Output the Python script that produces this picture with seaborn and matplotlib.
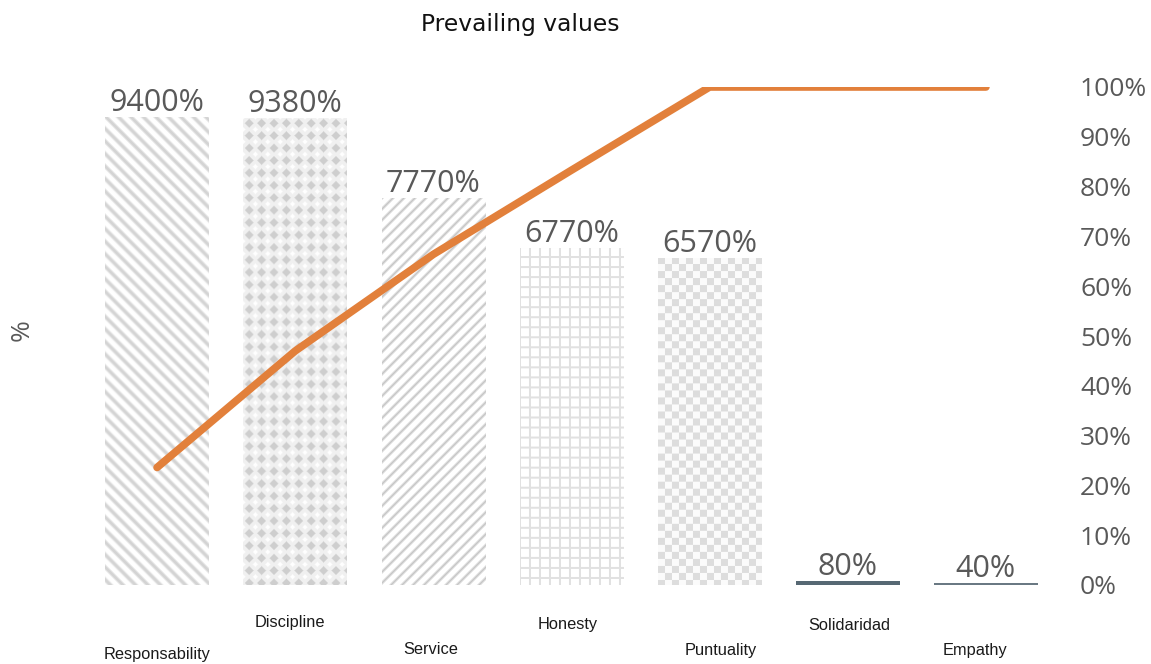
import numpy as np
import pandas as pd
import matplotlib
matplotlib.use("Agg")
import matplotlib.pyplot as plt
import seaborn as sns
from matplotlib.ticker import FuncFormatter

# ---- data -------------------------------------------------------------
categories = ["Responsability", "Discipline", "Service", "Honesty",
              "Puntuality", "Solidaridad", "Empathy"]
counts = [9400, 9380, 7770, 6770, 6570, 80, 40]
cumulative_pct = [23.6, 47.0, 66.4, 83.3, 100.0, 100.0, 100.0]
right_ticks = [0, 10, 20, 30, 40, 50, 60, 70, 80, 90, 100]

# ---- style ------------------------------------------------------------
sns.set_theme(style="white")
plt.rcParams["font.family"] = ["Open Sans", "DejaVu Sans"]

TEXT_GREY = "#595959"
LINE_ORANGE = "#E2803B"

W, H = 1151, 664
fig = plt.figure(figsize=(W / 100, H / 100), dpi=100)
ax = fig.add_axes([88 / W, 79 / H, 967 / W, 498 / H])

df = pd.DataFrame({"value": categories, "count": counts})
sns.barplot(data=df, x="value", y="count", ax=ax, width=0.75,
            color="white", saturation=1, edgecolor="none")
ax.set_xlim(-0.5, len(categories) - 0.5)
ax.set_ylim(0, 10000)


# ---- fill patterns for the tall bars ----------------------------------
def _mix(a, fg, bg=(255, 255, 255)):
    fg = np.array(fg, float) / 255
    bg = np.array(bg, float) / 255
    a = np.clip(a, 0, 1)[..., None]
    return bg * (1 - a) + fg * a


def stripes(X, Y, period, width, sign, grey):
    t = np.mod(X + sign * Y, period)
    dist = np.minimum(t, period - t) / np.sqrt(2)
    a = np.clip((width / 2 + 1.0 - dist) / 2.0, 0, 1)
    return _mix(a, grey)


def diamonds(X, Y, period):
    dx = np.mod(X, period) - period / 2
    dy = np.mod(Y, period) - period / 2
    d = np.abs(dx) + np.abs(dy)
    big = np.clip((period * 0.36 - d) / 1.6 + 0.5, 0, 1)
    ex = np.mod(X + period / 2, period) - period / 2
    ey = np.mod(Y + period / 2, period) - period / 2
    small = np.clip((period * 0.2 - (np.abs(ex) + np.abs(ey))) / 1.6 + 0.5, 0, 1)
    a = 0.25 + 0.6 * big - 0.25 * small
    return _mix(a, (198, 198, 198))


def grid(X, Y, period, width, grey):
    tx = np.mod(X, period)
    ty = np.mod(Y, period)
    dx = np.minimum(tx, period - tx)
    dy = np.minimum(ty, period - ty)
    a = np.clip((width / 2 + 0.6 - np.minimum(dx, dy)) / 1.2, 0, 1)
    return _mix(a, grey)


def checker(X, Y, size):
    cell = (np.floor(X / size) + np.floor(Y / size)) % 2
    a = np.where(cell == 0, 0.85, 0.1)
    return _mix(a, (215, 215, 215))


fills = [
    lambda X, Y: stripes(X, Y, 12.5, 3.6, -1, (212, 212, 212)),
    lambda X, Y: diamonds(X, Y, 12.4),
    lambda X, Y: stripes(X, Y, 11.0, 2.2, 1, (198, 198, 198)),
    lambda X, Y: grid(X, Y, 10.0, 1.1, (200, 200, 200)),
    lambda X, Y: checker(X, Y, 7.0),
]

fig.canvas.draw()
patches = list(ax.containers[0])
for patch, fill in zip(patches, fills):
    bb = patch.get_window_extent()
    w, h = max(int(round(bb.width)), 1), max(int(round(bb.height)), 1)
    X, Y = np.meshgrid(np.arange(w) + 0.5, np.arange(h) + 0.5)
    img = fill(X, Y)
    x0 = patch.get_x()
    im = ax.imshow(img, extent=(x0, x0 + patch.get_width(), 0, patch.get_height()),
                   origin="upper", aspect="auto", interpolation="bilinear",
                   zorder=patch.get_zorder())
    im.set_clip_path(patch)
    patch.set_facecolor("none")

# the two short bars are solid slate strips
patches[5].set_facecolor("#566873")
patches[6].set_facecolor("#6a7983")

ax.set_xlim(-0.5, len(categories) - 0.5)
ax.set_ylim(0, 10000)

ax.bar_label(ax.containers[0], labels=[f"{v}%" for v in counts],
             padding=-1, fontsize=22, color=TEXT_GREY)

# ---- cumulative line on the secondary axis ----------------------------
ax2 = ax.twinx()
sns.lineplot(x=np.arange(len(categories)), y=cumulative_pct, ax=ax2,
             color=LINE_ORANGE, linewidth=5.5, solid_capstyle="round")
ax2.set_ylim(0, 100)
ax2.set_yticks(right_ticks)
ax2.yaxis.set_major_formatter(FuncFormatter(lambda v, _: f"{v:.0f}%"))
ax2.tick_params(axis="y", length=0, pad=18, labelsize=19, labelcolor=TEXT_GREY)
ax2.set_xlim(-0.5, len(categories) - 0.5)

for a in (ax, ax2):
    for s in a.spines.values():
        s.set_visible(False)
    a.grid(False)

# ---- axes text --------------------------------------------------------
ax.set_yticks([])
ax.set_xticks(range(len(categories)))
ax.set_xticklabels([""] * len(categories))
ax.tick_params(axis="x", length=0)
ax.set_xlabel("")
ax.set_ylabel("%", fontsize=19, color=TEXT_GREY, va="center")
ax.yaxis.set_label_coords(-0.068, 0.512)

# category names sit in two staggered rows under the bars
shift_px = [0, -5, -3, -4, 11, 1, -11]
drop_px = [70, 37, 65, 40, 65, 40, 65]
for i, name in enumerate(categories):
    ax.annotate(name, xy=(i, 0), xycoords=("data", "axes fraction"),
                xytext=(shift_px[i] * 0.72, -drop_px[i] * 0.72),
                textcoords="offset points", ha="center", va="center",
                fontsize=11.8, color="#1a1a1a",
                family=["Liberation Sans", "DejaVu Sans"],
                annotation_clip=False)

fig.text(520 / W, 1 - 25 / H, "Prevailing values", ha="center", va="center",
         fontsize=16.8, color="#111111", family=["DejaVu Sans"])

fig.savefig("out.png", dpi=100)
